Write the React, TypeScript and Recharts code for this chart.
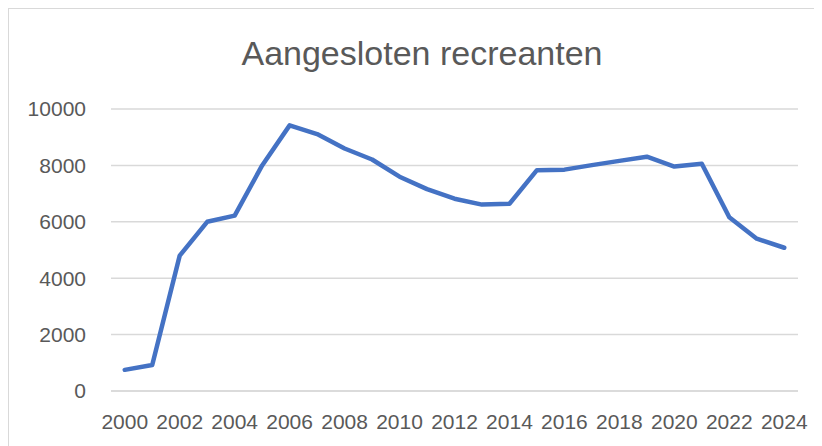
import { LineChart, Line, XAxis, YAxis, CartesianGrid } from 'recharts'

// jaartallen en aantallen aangesloten recreanten
const years = [
  '2000', '2001', '2002', '2003', '2004', '2005', '2006', '2007', '2008',
  '2009', '2010', '2011', '2012', '2013', '2014', '2015', '2016', '2017',
  '2018', '2019', '2020', '2021', '2022', '2023', '2024',
]
const recreanten = [
  750, 920, 4800, 6000, 6220, 8000, 9420, 9110, 8600, 8210, 7600, 7160,
  6820, 6610, 6640, 7830, 7850, 8010, 8160, 8310, 7960, 8060, 6160, 5400, 5080,
]
const yTicks = [0, 2000, 4000, 6000, 8000, 10000]

const chartData = years.map((year, i) => ({ year, value: recreanten[i] }))

const font = "'Liberation Sans', Arial, sans-serif"

export default function App() {
  return (
    <div
      style={{
        position: 'relative',
        width: 814,
        height: 438,
        boxSizing: 'border-box',
        borderTop: '1.5px solid #d9d9d9',
        borderLeft: '1.5px solid #d9d9d9',
        background: '#fff',
      }}
    >
      <div
        style={{
          position: 'absolute',
          left: 6,
          top: 25,
          width: 814,
          textAlign: 'center',
          fontFamily: font,
          fontSize: 34,
          color: '#595959',
        }}
      >
        Aangesloten recreanten
      </div>
      <div style={{ position: 'absolute', left: -8, top: -8 }}>
        <LineChart
          width={822}
          height={446}
          data={chartData}
          margin={{ top: 108, right: 25, bottom: 26, left: 0 }}
        >
          <CartesianGrid vertical={false} stroke="#d9d9d9" strokeWidth={1.5} />
          <XAxis
            dataKey="year"
            height={30}
            interval={1}
            padding={{ left: 13.75, right: 13.75 }}
            axisLine={{ stroke: '#d9d9d9', strokeWidth: 1.5 }}
            tickLine={false}
            tickSize={0}
            tickMargin={23}
            tick={{ fill: '#595959', fontSize: 21, fontFamily: font }}
          />
          <YAxis
            width={110}
            domain={[0, 10000]}
            ticks={yTicks}
            axisLine={false}
            tickLine={false}
            tickSize={0}
            tickMargin={25}
            tick={{ fill: '#595959', fontSize: 21, fontFamily: font }}
          />
          <Line
            type="linear"
            dataKey="value"
            stroke="#4472c4"
            strokeWidth={4.5}
            strokeLinejoin="round"
            strokeLinecap="round"
            dot={false}
            activeDot={false}
            isAnimationActive={false}
          />
        </LineChart>
      </div>
    </div>
  )
}
